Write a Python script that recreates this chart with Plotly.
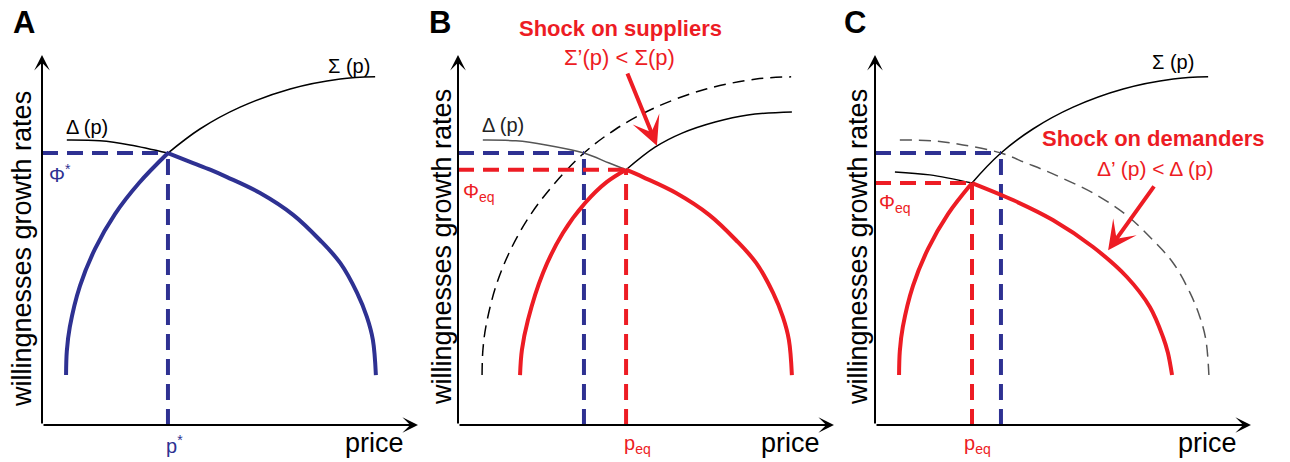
import plotly.graph_objects as go

# ---------------- data (arbitrary units, axes run 0..10) ----------------
# original supply willingness  Σ(p)
sigma_price = [0.64, 0.66, 0.74, 1.01, 1.41, 1.94, 2.58, 3.35, 4.20, 5.27, 6.60, 7.93, 8.86]
sigma_rate = [1.35, 2.00, 2.65, 3.76, 4.76, 5.70, 6.54, 7.35, 8.00, 8.59, 9.08, 9.35, 9.41]
# original demand willingness  Δ(p)
delta_price = [0.66, 1.54, 2.34, 3.35, 4.02, 4.47, 4.92, 5.80, 6.68, 7.39, 7.93, 8.38, 8.64, 8.80, 8.88]
delta_rate = [7.70, 7.68, 7.57, 7.35, 7.08, 6.90, 6.70, 6.27, 5.68, 5.00, 4.38, 3.57, 2.92, 2.30, 1.35]
# shocked supply  Σ'(p)
sigma2_price = [1.65, 1.70, 1.86, 2.26, 2.79, 3.38, 3.96, 4.47, 5.24, 5.96, 6.84, 7.71, 8.88]
sigma2_rate = [1.35, 2.03, 2.84, 4.11, 5.19, 6.00, 6.57, 6.90, 7.51, 7.89, 8.19, 8.38, 8.46]
# shocked demand  Δ'(p)
delta2_price = [0.53, 1.46, 2.58, 3.67, 4.73, 5.80, 6.70, 7.31, 7.66, 7.79, 7.90]
delta2_rate = [6.84, 6.76, 6.54, 6.08, 5.54, 4.81, 4.00, 3.19, 2.38, 1.95, 1.35]

# equilibria: A (original), B (supply shock), C (demand shock)
eq_price = [3.35, 4.47, 2.58]
eq_rate = [7.35, 6.90, 6.54]

# shock arrows (tail -> head) for panels B and C
arrow_tail_price = [4.49, 7.45]
arrow_tail_rate = [9.54, 6.49]
arrow_head_price = [5.29, 6.20]
arrow_head_rate = [7.55, 4.72]

# ---------------- styling / layout ----------------
OFF = 8                      # page body margin of the html page
W, H = 1290 - OFF, 462 - OFF
BLUE = "#2E3192"
RED = "#ED1C24"
GRAY = "#555555"
FONT = "Liberation Sans, Arial, Helvetica, sans-serif"
SX, SY = 37.6, 37.0          # pixels per unit
ORIGINS = [(42, 425), (458, 425), (875, 425)]
XR = (-0.5, 10.5)
YR = (-0.5, 10.6)


def split(px, py, x_eq):
    i = px.index(x_eq)
    return (px[:i + 1], py[:i + 1]), (px[i:], py[i:])


def P(x, y):
    return (x - OFF) / W, 1 - (y - OFF) / H


fig = go.Figure()
axes = [("x", "y"), ("x2", "y2"), ("x3", "y3")]


def line(ax, xs, ys, color, width, dash="solid", spline=True):
    fig.add_trace(go.Scatter(
        x=list(xs), y=list(ys), xaxis=ax[0], yaxis=ax[1], mode="lines",
        line=dict(color=color, width=width, dash=dash,
                  shape="spline" if spline else "linear", smoothing=1.0),
        hoverinfo="skip", showlegend=False))


def eq_guides(ax, k, color):
    line(ax, [0, eq_price[k]], [eq_rate[k], eq_rate[k]], color, 4, "16px,9px", False)
    line(ax, [eq_price[k], eq_price[k]], [0, eq_rate[k]], color, 4, "16px,9px", False)


# ---- Panel A ----
A = axes[0]
s_lo, s_hi = split(sigma_price, sigma_rate, eq_price[0])
d_lo, d_hi = split(delta_price, delta_rate, eq_price[0])
line(A, *d_lo, "black", 1.5)
line(A, *s_hi, "black", 1.5)
eq_guides(A, 0, BLUE)
line(A, *s_lo, BLUE, 4)
line(A, *d_hi, BLUE, 4)

# ---- Panel B ----
B = axes[1]
s2_lo, s2_hi = split(sigma2_price, sigma2_rate, eq_price[1])
dB_lo, dB_hi = split(delta_price, delta_rate, eq_price[1])
line(B, sigma_price, sigma_rate, "black", 1.5, "12px,7px")
line(B, *dB_lo, GRAY, 1.5)
line(B, *s2_hi, "black", 1.5)
eq_guides(B, 0, BLUE)
eq_guides(B, 1, RED)
line(B, *s2_lo, RED, 4)
line(B, *dB_hi, RED, 4)

# ---- Panel C ----
C = axes[2]
sC_lo, sC_hi = split(sigma_price, sigma_rate, eq_price[2])
d2_lo, d2_hi = split(delta2_price, delta2_rate, eq_price[2])
line(C, delta_price, delta_rate, GRAY, 1.5, "12px,7px")
line(C, sigma_price, sigma_rate, "black", 1.5)
line(C, *d2_lo, "black", 1.5)
eq_guides(C, 0, BLUE)
eq_guides(C, 2, RED)
line(C, *sC_lo, RED, 4)
line(C, *d2_hi, RED, 4)

annotations = []
# axis arrows
for xa, ya in axes:
    for (tx, ty) in [(10, 0), (0, 10)]:
        annotations.append(dict(x=tx, y=ty, ax=0, ay=0, xref=xa, yref=ya, axref=xa, ayref=ya,
                                text="", showarrow=True, arrowhead=3, arrowsize=1.3,
                                arrowwidth=2, arrowcolor="black"))
# shock arrows
for k, (xa, ya) in enumerate(axes[1:]):
    annotations.append(dict(x=arrow_head_price[k], y=arrow_head_rate[k],
                            ax=arrow_tail_price[k], ay=arrow_tail_rate[k],
                            xref=xa, yref=ya, axref=xa, ayref=ya, text="", showarrow=True,
                            arrowhead=3, arrowsize=1.2, arrowwidth=4, arrowcolor=RED))


def label(text, cx, cy, size, color="black", angle=0, xanchor="center"):
    x, y = P(cx, cy)
    annotations.append(dict(text=text, x=x, y=y, xref="paper", yref="paper", showarrow=False,
                            xanchor=xanchor, yanchor="middle", textangle=angle,
                            font=dict(family=FONT, size=size, color=color)))


YT = "willingnesses growth rates"
# Panel A texts
label("<b>A</b>", 24, 22, 31)
label(YT, 22, 249, 27, angle=-90)
label("price", 374, 443, 27)
label("Δ (p)", 87, 127, 20)
label("Σ (p)", 349, 66, 20)
label("Φ<sup>*</sup>", 47, 173, 20, BLUE, xanchor="left")
label("p<sup>*</sup>", 164, 444, 20, BLUE, xanchor="left")
# Panel B texts
label("<b>B</b>", 440, 22, 31)
label(YT, 442, 247, 27, angle=-90)
label("price", 790, 443, 27)
label("Δ (p)", 503, 125, 20, "#222222")
label("<b>Shock on suppliers</b>", 620, 28, 22, RED)
label("Σ’(p) < Σ(p)", 619, 58, 22, RED)
label("Φ<sub>eq</sub>", 461, 193, 20, RED, xanchor="left")
label("p<sub>eq</sub>", 622, 444, 20, RED, xanchor="left")
# Panel C texts
label("<b>C</b>", 855, 22, 31)
label(YT, 858, 247, 27, angle=-90)
label("price", 1207, 443, 27)
label("Σ (p)", 1173, 62, 20)
label("<b>Shock on demanders</b>", 1153, 138, 22, RED)
label("Δ’ (p) < Δ (p)", 1155, 168, 21, RED)
label("Φ<sub>eq</sub>", 877, 203, 20, RED, xanchor="left")
label("p<sub>eq</sub>", 962, 444, 20, RED, xanchor="left")

layout = dict(width=W, height=H, autosize=False, margin=dict(l=0, r=0, t=0, b=0, pad=0),
              paper_bgcolor="white", plot_bgcolor="rgba(0,0,0,0)", showlegend=False,
              annotations=annotations, font=dict(family=FONT))
for i, (ox, oy) in enumerate(ORIGINS):
    sfx = "" if i == 0 else str(i + 1)
    xd = [(ox - OFF + XR[0] * SX) / W, (ox - OFF + XR[1] * SX) / W]
    yd = [1 - (oy - OFF - YR[0] * SY) / H, 1 - (oy - OFF - YR[1] * SY) / H]
    common = dict(showgrid=False, zeroline=False, showline=False, showticklabels=False,
                  ticks="", fixedrange=True)
    layout["xaxis" + sfx] = dict(domain=xd, range=list(XR), anchor="y" + sfx, **common)
    layout["yaxis" + sfx] = dict(domain=yd, range=list(YR), anchor="x" + sfx, **common)
fig.update_layout(**layout)
fig.write_html("out.html")
